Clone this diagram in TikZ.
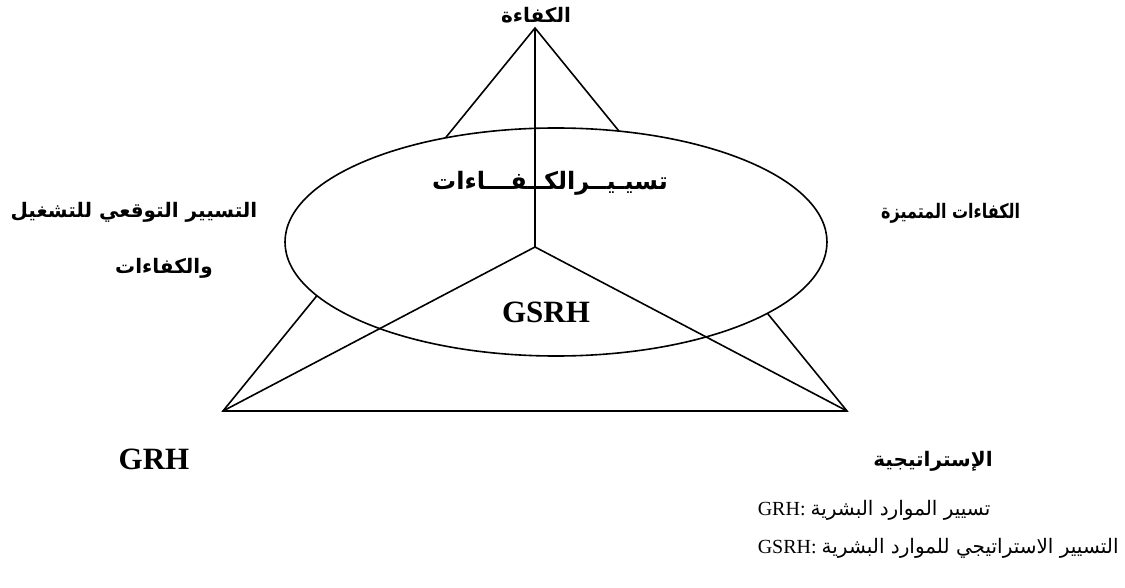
\documentclass[tikz,border=0pt]{standalone}
\usepackage{fontspec}
\setmainfont{Liberation Serif}
\newfontfamily\arabicfont[Script=Arabic]{DejaVu Sans}
\TeXXeTstate=1
\usetikzlibrary{shapes.geometric}
\begin{document}
\begin{tikzpicture}[x=1pt,y=-1pt,line width=1.6pt,
  arlbl/.style={font=\arabicfont\bfseries\fontsize{20}{24}\selectfont,inner sep=0pt},
  latlbl/.style={font=\bfseries\fontsize{31}{36}\selectfont,inner sep=0pt},
  legend/.style={font=\fontsize{20}{24}\selectfont,inner sep=0pt,anchor=west}]
\useasboundingbox (0,0) rectangle (1125,588);

% corners of the big triangle and the meeting point of the inner spokes
\coordinate (apex) at (535,28);
\coordinate (bl) at (223,411);
\coordinate (br) at (847,411);
\coordinate (ctr) at (535,247);

\draw[line join=miter] (apex) -- (bl) -- (br) -- cycle;
\node[ellipse,draw,fill=white,minimum width=542pt,minimum height=228pt,inner sep=0pt] (oval) at (556,242) {};
\draw (ctr) -- (apex);
\draw (ctr) -- (bl);
\draw (ctr) -- (br);

% labels
\node[arlbl] (top) at (536,15) {\beginR الكفاءة\endR};
\node[arlbl] (left1) at (134,212) {\beginR التسيير التوقعي للتشغيل\endR};
\node[arlbl] (left2) at (164,268) {\beginR والكفاءات\endR};
\node[arlbl,anchor=east] (right) at (1021,213) {\scalebox{0.8}[1]{\beginR الكفاءات المتميزة\endR}};
\node[arlbl,font=\arabicfont\bfseries\fontsize{24}{28}\selectfont] (mid) at (550,183) {\beginR تسيـيــرالكــفـــاءات\endR};
\node[latlbl] (gsrh) at (546,312) {GSRH};
\node[latlbl] (grh) at (154,459) {GRH};
\node[arlbl] (strat) at (933,461) {\beginR الإستراتيجية\endR};

% key
\node[legend] (key1) at (757,510) {GRH: {\arabicfont\beginR تسيير الموارد البشرية\endR}};
\node[legend] (key2) at (757,548) {GSRH: {\arabicfont\beginR التسيير الاستراتيجي للموارد البشرية\endR}};
\end{tikzpicture}
\end{document}
